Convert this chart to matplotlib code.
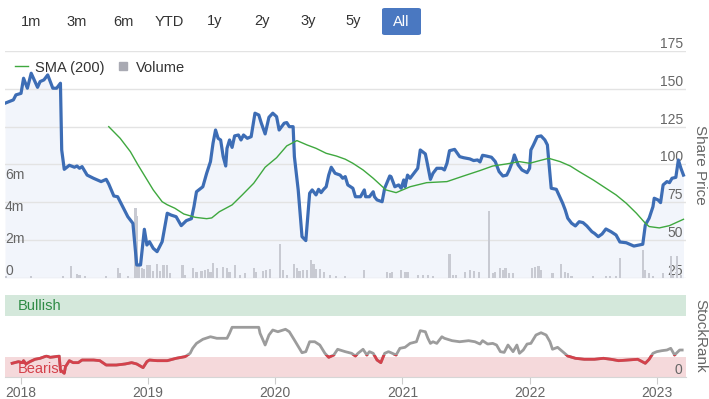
import matplotlib.pyplot as plt
from matplotlib.lines import Line2D
from matplotlib.patches import FancyBboxPatch, Rectangle
from matplotlib.ticker import FuncFormatter
import matplotlib.transforms as mtrans

plt.rcParams['font.family'] = ['Liberation Sans', 'DejaVu Sans']

# share price (decimal year, price)
price_t = [2017.874, 2017.94, 2017.96, 2018.00, 2018.02, 2018.05, 2018.08, 2018.13, 2018.15, 2018.18,
           2018.21, 2018.25, 2018.28, 2018.31, 2018.32, 2018.34, 2018.38, 2018.42, 2018.44, 2018.46,
           2018.48, 2018.52, 2018.57, 2018.63, 2018.67, 2018.69, 2018.73, 2018.76, 2018.80, 2018.84,
           2018.88, 2018.91, 2018.94, 2018.97, 2018.99, 2019.01, 2019.04, 2019.07, 2019.11, 2019.15,
           2019.18, 2019.22, 2019.26, 2019.30, 2019.34, 2019.36, 2019.38, 2019.43, 2019.46, 2019.49,
           2019.51, 2019.53, 2019.55, 2019.57, 2019.59, 2019.61, 2019.62, 2019.64, 2019.66, 2019.68,
           2019.71, 2019.73, 2019.75, 2019.78, 2019.81, 2019.84, 2019.87, 2019.89, 2019.92, 2019.95,
           2019.98, 2020.01, 2020.03, 2020.07, 2020.09, 2020.11, 2020.14, 2020.15, 2020.18, 2020.21,
           2020.24, 2020.27, 2020.29, 2020.32, 2020.34, 2020.36, 2020.38, 2020.40, 2020.42, 2020.44,
           2020.47, 2020.51, 2020.53, 2020.55, 2020.57, 2020.61, 2020.63, 2020.67, 2020.70, 2020.71,
           2020.74, 2020.77, 2020.78, 2020.80, 2020.84, 2020.86, 2020.90, 2020.91, 2020.94, 2020.97,
           2020.99, 2021.01, 2021.02, 2021.04, 2021.06, 2021.09, 2021.12, 2021.14, 2021.18, 2021.19,
           2021.22, 2021.24, 2021.27, 2021.31, 2021.33, 2021.35, 2021.37, 2021.41, 2021.45, 2021.48,
           2021.53, 2021.56, 2021.59, 2021.61, 2021.63, 2021.66, 2021.70, 2021.73, 2021.76, 2021.79,
           2021.82, 2021.84, 2021.87, 2021.88, 2021.91, 2021.94, 2021.98, 2022.00, 2022.01, 2022.03,
           2022.06, 2022.09, 2022.12, 2022.14, 2022.15, 2022.17, 2022.21, 2022.23, 2022.26, 2022.28,
           2022.30, 2022.33, 2022.36, 2022.39, 2022.42, 2022.45, 2022.49, 2022.51, 2022.54, 2022.57,
           2022.60, 2022.64, 2022.68, 2022.71, 2022.76, 2022.80, 2022.82, 2022.85, 2022.89, 2022.91,
           2022.94, 2022.97, 2022.98, 2023.01, 2023.03, 2023.05, 2023.08, 2023.10, 2023.12, 2023.15,
           2023.17, 2023.19, 2023.21]
price = [140.5, 142.7, 146, 147, 157, 150.4, 160.3, 151, 154.8, 155.9,
         159.2, 150.4, 150.4, 153.7, 109.6, 96.8, 99.5, 98.2, 99, 97.5,
         98.6, 93, 90.9, 88.7, 90.2, 87.1, 79.2, 78.7, 72.1, 65.5,
         61.1, 33.6, 33.6, 57.2, 46.8, 49, 44.6, 42.4, 49, 67.8,
         66.6, 65.5, 59.6, 62.9, 64.2, 72.1, 82, 85.3, 94.2, 101.9,
         114, 122.8, 117.3, 116.2, 105.2, 99, 110.7, 116.2, 111.3, 118.9,
         119.5, 116.2, 119.5, 117.3, 118.4, 133.9, 132.7, 127.3, 120.2, 131.2,
         133.9, 131.6, 122.8, 127.3, 127.7, 125, 125, 105.2, 83.2, 52.3,
         49.7, 81, 83.2, 79.9, 83.6, 81.4, 83.6, 85.3, 93, 98.2,
         94.2, 93, 90.9, 92, 86.5, 84.3, 78.7, 78.7, 83.2, 78.7,
         78.7, 82, 78.7, 76.6, 75.4, 84.3, 92.4, 92, 85.3, 86.5,
         84.3, 89.8, 85.3, 93, 90.9, 94.2, 97.5, 109.6, 107, 103,
         90.2, 94.2, 97.5, 97.5, 96.4, 100.8, 109.1, 110, 105.2, 104.5,
         103.7, 102.6, 103, 101.7, 106.1, 105.6, 104.8, 101.9, 95.3, 92.4,
         93, 96.4, 103, 106.3, 99.7, 96.4, 94.6, 97.5, 109.6, 112.9,
         118.4, 118.9, 116.2, 112.9, 103, 84.3, 83.6, 79.9, 74.4, 70,
         64.5, 61.2, 59.4, 62.2, 61.6, 59.4, 55.6, 54.5, 52.3, 54.1,
         57.4, 55.6, 53.4, 48.8, 48.3, 46.8, 46.1, 46.6, 47.3, 60,
         64.5, 72.1, 77.7, 76.6, 74.8, 86.5, 88.7, 88, 90.9, 91.5,
         103, 97.5, 93]

# 200-day simple moving average
sma_t = [2018.69, 2018.78, 2018.86, 2018.92, 2018.96, 2019.04, 2019.11, 2019.15, 2019.21, 2019.28,
         2019.37, 2019.46, 2019.50, 2019.56, 2019.66, 2019.74, 2019.83, 2019.92, 2020.01, 2020.09,
         2020.17, 2020.25, 2020.32, 2020.40, 2020.48, 2020.55, 2020.61, 2020.69, 2020.77, 2020.87,
         2020.95, 2021.06, 2021.19, 2021.35, 2021.48, 2021.61, 2021.71, 2021.82, 2021.92, 2022.00,
         2022.08, 2022.15, 2022.24, 2022.32, 2022.39, 2022.50, 2022.60, 2022.68, 2022.76, 2022.84,
         2022.91, 2022.94, 2023.02, 2023.10, 2023.21]
sma = [125, 117.3, 108.5, 99.7, 94.2, 83.2, 75.4, 73.4, 71.1, 67.3,
       65.1, 64.2, 64.7, 68.8, 73.3, 79.9, 87.6, 98.2, 104.5, 112.3,
       115.8, 112.9, 110.7, 107.4, 105.6, 103.5, 100.8, 96.4, 90.9, 83.2,
       81.4, 85.3, 88, 88.7, 92.4, 96, 99, 100.4, 101.9, 100.8,
       102.6, 104.1, 101.9, 99, 95.3, 89.8, 84.3, 79.9, 74.4, 67.8,
       61.2, 59, 58.1, 59.6, 63.8]

# volume (millions)
vol_t = [2017.88, 2018.08, 2018.33, 2018.39, 2018.44, 2018.46, 2018.50, 2018.67, 2018.76, 2018.78,
         2018.84, 2018.90, 2018.91, 2018.93, 2018.95, 2018.97, 2018.99, 2019.01, 2019.04, 2019.07,
         2019.09, 2019.12, 2019.15, 2019.17, 2019.27, 2019.29, 2019.35, 2019.38, 2019.42, 2019.45,
         2019.47, 2019.49, 2019.51, 2019.54, 2019.59, 2019.62, 2019.64, 2019.68, 2019.72, 2019.76,
         2019.83, 2019.85, 2019.90, 2019.93, 2019.96, 2020.04, 2020.06, 2020.09, 2020.15, 2020.17,
         2020.19, 2020.22, 2020.25, 2020.28, 2020.30, 2020.32, 2020.35, 2020.38, 2020.43, 2020.48,
         2020.55, 2020.70, 2020.88, 2020.90, 2020.92, 2020.99, 2021.02, 2021.04, 2021.12, 2021.16,
         2021.20, 2021.24, 2021.37, 2021.40, 2021.42, 2021.49, 2021.53, 2021.56, 2021.60, 2021.68,
         2021.71, 2021.73, 2021.77, 2021.79, 2021.81, 2021.84, 2021.87, 2022.02, 2022.04, 2022.07,
         2022.09, 2022.18, 2022.25, 2022.28, 2022.30, 2022.33, 2022.50, 2022.60, 2022.63, 2022.68,
         2022.71, 2022.89, 2022.91, 2022.94, 2022.97, 2023.05, 2023.11, 2023.13, 2023.16, 2023.19]
vol_m = [0.1, 0.1, 0.1, 0.74, 0.25, 0.2, 0.1, 0.1, 0.6, 0.3,
         0.1, 4.4, 3.9, 0.74, 0.65, 0.55, 0.8, 0.83, 0.45, 0.86,
         0.45, 0.83, 0.83, 0.3, 0.83, 0.2, 0.6, 0.35, 0.45, 0.5,
         0.55, 0.4, 0.96, 0.6, 0.7, 0.6, 0.4, 0.8, 0.2, 0.3,
         0.6, 0.4, 0.45, 0.5, 0.55, 2.1, 0.5, 0.2, 0.85, 0.6,
         0.45, 0.5, 0.5, 1.15, 0.9, 0.55, 0.55, 0.4, 0.2, 0.1,
         0.1, 0.5, 0.4, 0.3, 0.4, 0.5, 0.4, 0.4, 0.2, 0.2,
         0.2, 0.1, 1.5, 0.2, 0.2, 0.4, 0.5, 0.45, 0.4, 4.2,
         0.3, 0.4, 0.65, 0.5, 0.6, 0.3, 0.3, 0.6, 0.7, 0.75,
         0.5, 0.3, 0.9, 0.4, 0.3, 0.1, 0.1, 0.1, 0.1, 0.1,
         1.27, 1.75, 0.5, 0.3, 0.15, 0.3, 1.4, 0.2, 1.4, 0.2]

# StockRank
rank_t = [2017.93, 2017.98, 2018.01, 2018.02, 2018.04, 2018.07, 2018.11, 2018.15, 2018.20, 2018.23,
          2018.27, 2018.30, 2018.31, 2018.34, 2018.35, 2018.38, 2018.41, 2018.45, 2018.48, 2018.57,
          2018.62, 2018.67, 2018.75, 2018.82, 2018.87, 2018.91, 2018.96, 2018.99, 2019.01, 2019.07,
          2019.15, 2019.22, 2019.29, 2019.33, 2019.35, 2019.38, 2019.43, 2019.49, 2019.54, 2019.62,
          2019.64, 2019.66, 2019.77, 2019.87, 2019.88, 2019.92, 2019.95, 2019.98, 2020.02, 2020.08,
          2020.11, 2020.15, 2020.21, 2020.24, 2020.27, 2020.31, 2020.35, 2020.39, 2020.42, 2020.46,
          2020.49, 2020.55, 2020.60, 2020.63, 2020.65, 2020.69, 2020.72, 2020.74, 2020.77, 2020.80,
          2020.83, 2020.86, 2020.89, 2020.91, 2020.95, 2020.98, 2021.02, 2021.06, 2021.11, 2021.14,
          2021.18, 2021.20, 2021.22, 2021.24, 2021.27, 2021.31, 2021.33, 2021.39, 2021.45, 2021.52,
          2021.57, 2021.61, 2021.63, 2021.67, 2021.71, 2021.74, 2021.77, 2021.80, 2021.83, 2021.85,
          2021.87, 2021.90, 2021.92, 2021.95, 2021.98, 2022.01, 2022.05, 2022.09, 2022.13, 2022.16,
          2022.18, 2022.22, 2022.26, 2022.30, 2022.36, 2022.43, 2022.51, 2022.58, 2022.64, 2022.70,
          2022.77, 2022.85, 2022.91, 2022.94, 2022.97, 2023.00, 2023.04, 2023.08, 2023.11, 2023.14,
          2023.18, 2023.20]
rank = [16.7, 18.7, 17.5, 19.9, 15.9, 18.7, 21.6, 22.8, 25.6, 24,
        24.8, 25.6, 8.5, 4.5, 12.6, 19.9, 17.5, 17.5, 20.7, 20.7,
        19.9, 14.6, 14.6, 15.9, 17.5, 15.9, 11.4, 18.7, 20.7, 19.9,
        19.9, 22.8, 24.8, 28.9, 35, 41, 46, 49.1, 47.2, 47.2,
        53.3, 60.6, 60.6, 60.6, 53.3, 39, 51.2, 57.3, 55.2, 58.2,
        55.2, 45.1, 29.6, 30.9, 43, 43, 39, 28.9, 24, 26.8,
        33.8, 30.9, 28.9, 25.6, 28.9, 33.8, 26.8, 30.9, 28.9, 20.7,
        17.5, 28.9, 30.9, 29.6, 26.8, 35, 36.2, 41, 43, 56.5,
        55.2, 47.2, 41, 43, 41, 49.1, 47.2, 44.3, 43, 44.3,
        43, 40.2, 44.3, 40.2, 41, 39, 30.9, 30, 39, 35,
        30.9, 39, 28.9, 32.9, 40.2, 41, 51.2, 54, 51.2, 43,
        33.8, 36.2, 30.9, 25.6, 22.8, 21.6, 21.6, 22.8, 21.6, 19.9,
        20.7, 21.6, 16.7, 21.6, 28.9, 30.9, 32.1, 32.9, 35, 26.8,
        32.9, 32.9]

years = [2018, 2019, 2020, 2021, 2022, 2023]
price_ticks = [25, 50, 75, 100, 125, 150, 175]
vol_ticks = [0, 2, 4, 6]
buttons = ['1m', '3m', '6m', 'YTD', '1y', '2y', '3y', '5y', 'All']
button_x = [31, 77, 123, 169, 215, 262, 308, 353, 401.5]

W, H = 709, 399
fig = plt.figure(figsize=(W / 100, H / 100), dpi=100)


def box(l, t, r, b):
    # pixel box (top-left origin) -> figure rect
    return [l / W, 1 - b / H, (r - l) / W, (b - t) / H]


x0, x1 = 2017.874, 2023.23
grey = '#666666'

# ---- top panel: price area + grid (bottom), volume bars, price/SMA lines (top) ----
ax_p = fig.add_axes(box(5, 51, 686, 278))
ax_v = ax_p.twinx()
ax_l = ax_p.twinx()
for a in (ax_v, ax_l):
    a.patch.set_visible(False)

ax_p.fill_between(price_t, price, 25, color='#f2f5fb', linewidth=0)
ax_p.set_ylim(25, 175)
ax_p.set_yticks(price_ticks)
ax_p.grid(axis='y', color='#e3e3e3', lw=1)
ax_p.yaxis.tick_right()
ax_p.tick_params(axis='y', length=0, pad=-2, labelsize=10, labelcolor=grey)
for lbl in ax_p.get_yticklabels():
    lbl.set_horizontalalignment('right')
    lbl.set_verticalalignment('bottom')
ax_p.yaxis.set_label_position('right')
ax_p.set_ylabel('Share Price', rotation=270, color=grey, fontsize=11, va='center', ha='center')
ax_p.yaxis.set_label_coords(1.021, 0.5)

ax_v.bar(vol_t, vol_m, width=0.017, color='#c8cad2', linewidth=0)
ax_v.set_ylim(0, 14.2)
ax_v.yaxis.tick_left()
ax_v.set_yticks(vol_ticks)
ax_v.yaxis.set_major_formatter(FuncFormatter(lambda v, _: '0' if v == 0 else f'{v:.0f}m'))
ax_v.tick_params(axis='y', length=0, pad=0, labelsize=10, labelcolor=grey)
for lbl in ax_v.get_yticklabels():
    lbl.set_horizontalalignment('left')
    lbl.set_verticalalignment('bottom')

ax_l.plot(price_t, price, color='#3d6db5', lw=2.3, solid_joinstyle='round')
ax_l.plot(sma_t, sma, color='#3fa83f', lw=1)
ax_l.set_ylim(25, 175)
ax_l.set_yticks([])

for a in (ax_p, ax_v, ax_l):
    a.set_xlim(x0, x1)
    a.set_xticks([])
    for s in a.spines.values():
        s.set_visible(False)

handles = [Line2D([], [], color='#3fa83f', lw=1),
           Line2D([], [], ls='none', marker='s', ms=6, color='#a9aab3')]
ax_l.legend(handles, ['SMA (200)', 'Volume'], loc='upper left', bbox_to_anchor=(0.0, 1.003),
            ncol=2, frameon=False, fontsize=10.5, handlelength=0.9, handletextpad=0.45,
            columnspacing=0.8, borderaxespad=0.3, labelcolor='#333333')

# ---- bottom panel: StockRank ----
ax_r = fig.add_axes(box(5, 295, 686, 377))
ax_r.axhspan(75, 100, color='#d4e8db', lw=0)
ax_r.axhspan(0, 25, color='#f5d9db', lw=0)
ax_r.plot(rank_t, rank, color='#9c9c9c', lw=2)
red, = ax_r.plot(rank_t, rank, color='#d4414b', lw=2)
red.set_clip_path(Rectangle((x0, 0), x1 - x0, 26.5, transform=ax_r.transData))
ax_r.set_xlim(x0, x1)
ax_r.set_ylim(0, 100)

mix = mtrans.blended_transform_factory(ax_r.transAxes, ax_r.transData)
ax_r.text(0.019, 86, 'Bullish', transform=mix, color='#2e8b45', fontsize=10.5, va='center')
ax_r.text(0.019, 10, 'Bearish', transform=mix, color='#d4414b', fontsize=10.5, va='center')

ax_r.yaxis.tick_right()
ax_r.set_yticks([0])
ax_r.tick_params(axis='y', length=0, pad=-3, labelsize=10, labelcolor=grey)
for lbl in ax_r.get_yticklabels():
    lbl.set_horizontalalignment('right')
    lbl.set_verticalalignment('bottom')
ax_r.yaxis.set_label_position('right')
ax_r.set_ylabel('StockRank', rotation=270, color=grey, fontsize=11, va='center', ha='center')
ax_r.yaxis.set_label_coords(1.021, 0.5)

ax_r.set_xticks(years)
ax_r.set_xticklabels([str(y) for y in years])
ax_r.tick_params(axis='x', length=5, color='#cccccc', labelsize=10, labelcolor=grey, pad=1.2)
for k, s in ax_r.spines.items():
    s.set_visible(k == 'bottom')
ax_r.spines['bottom'].set_color('#d6d6d6')

# ---- range selector buttons ----
fig.patches.append(FancyBboxPatch((382 / W, 1 - 35 / H), 39 / W, 27 / H,
                                  boxstyle='round,pad=0,rounding_size=0.004',
                                  transform=fig.transFigure, facecolor='#4a78c1', edgecolor='none'))
for lbl, bx in zip(buttons, button_x):
    fig.text(bx / W, 1 - 21.5 / H, lbl, ha='center', va='center', fontsize=10.5,
             color='white' if lbl == 'All' else '#333333')

fig.savefig('out.png', dpi=100)
